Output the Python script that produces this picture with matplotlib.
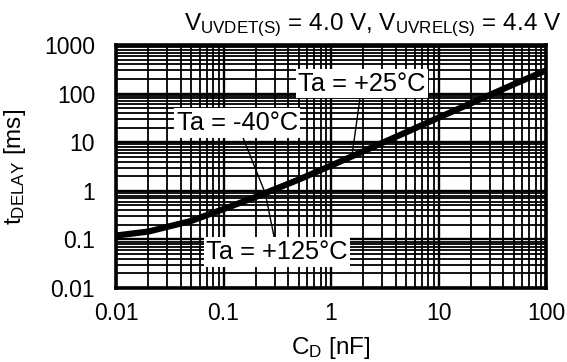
#!/usr/bin/env python3
"""Delay time vs. delay capacitor, log-log characteristic curve."""

import matplotlib
matplotlib.use("Agg")
import matplotlib.pyplot as plt
from matplotlib.ticker import LogLocator, NullFormatter

plt.rcParams["font.family"] = ["Liberation Sans", "DejaVu Sans"]
plt.rcParams["mathtext.fontset"] = "custom"
plt.rcParams["mathtext.rm"] = "Liberation Sans"
plt.rcParams["mathtext.it"] = "Liberation Sans"

# curve (CD in nF, tDELAY in ms)
cd_nf = [0.01, 0.02, 0.05, 0.1, 0.2, 0.5, 1, 2, 5, 10, 20, 50, 100]
t_delay_ms = [0.12, 0.145, 0.24, 0.42, 0.75, 1.7, 3.3, 6.5, 16, 32, 63, 155, 300]

x_ticks = [0.01, 0.1, 1, 10, 100]
x_tick_labels = ["0.01", "0.1", "1", "10", "100"]
y_ticks = [0.01, 0.1, 1, 10, 100, 1000]
y_tick_labels = ["0.01", "0.1", "1", "10", "100", "1000"]

# (label, text position, point on curve)
labels = [
    ("Ta = +25°C", (1.94, 158), (1.57, 5.5)),
    ("Ta = -40°C", (0.134, 24.8), (0.245, 0.88)),
    ("Ta = +125°C", (0.315, 0.055), (0.245, 0.88)),
]

fig = plt.figure(figsize=(5.67, 3.62), dpi=100)
ax = fig.add_axes([0.2046, 0.2044, 0.7584, 0.6713])

ax.set_xscale("log")
ax.set_yscale("log")
ax.set_xlim(0.01, 100)
ax.set_ylim(0.01, 1000)

ax.xaxis.set_minor_locator(LogLocator(base=10, subs=range(2, 10)))
ax.yaxis.set_minor_locator(LogLocator(base=10, subs=range(2, 10)))
ax.xaxis.set_minor_formatter(NullFormatter())
ax.yaxis.set_minor_formatter(NullFormatter())
ax.set_xticks(x_ticks, x_tick_labels)
ax.set_yticks(y_ticks, y_tick_labels)
ax.tick_params(which="both", length=0, labelsize=16.5)
ax.tick_params(axis="x", pad=10)
ax.tick_params(axis="y", pad=15)

ax.grid(which="major", color="black", linewidth=1.7)
ax.grid(which="minor", color="black", linewidth=1.3)
for s in ax.spines.values():
    s.set_linewidth(2.6)
    s.set_zorder(5)

ax.plot(cd_nf, t_delay_ms, color="black", linewidth=4.5, solid_capstyle="butt", zorder=3)

for text, pos, pt in labels:
    ax.annotate(
        text, xy=pt, xytext=pos, ha="center", va="center", fontsize=18.3,
        bbox=dict(boxstyle="square,pad=0.1", facecolor="white", edgecolor="none"),
        arrowprops=dict(arrowstyle="-", color="black", linewidth=1.0,
                        shrinkA=0, shrinkB=0),
        zorder=4,
    )

fig.text(0.99, 0.93,
         r"V$_{\mathrm{UVDET(S)}}$ = 4.0 V, V$_{\mathrm{UVREL(S)}}$ = 4.4 V",
         ha="right", va="center", fontsize=17.5)
ax.set_xlabel(r"C$_{\mathrm{D}}$ [nF]", fontsize=17.5, labelpad=7)
ax.set_ylabel(r"t$_{\mathrm{DELAY}}$ [ms]", fontsize=17.5, labelpad=12)

fig.savefig("out.png", dpi=100)
